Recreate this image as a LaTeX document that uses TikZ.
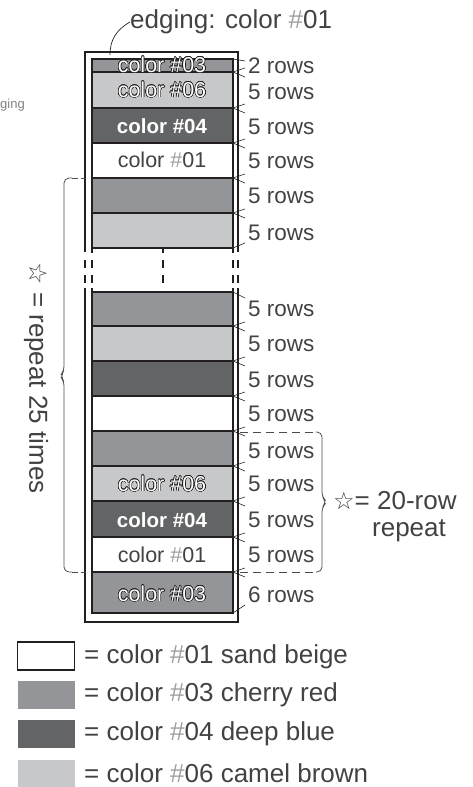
\documentclass[tikz,border=0pt]{standalone}
\usepackage{fontspec}
\setmainfont{Liberation Sans}
\newfontfamily\symfont{DejaVu Sans}
\usepackage{contour}
\contourlength{0.5pt}
\contournumber{24}
\definecolor{cA}{HTML}{939598}
\definecolor{cB}{HTML}{C7C8CA}
\definecolor{cC}{HTML}{636466}
\definecolor{ink}{HTML}{231F20}
\definecolor{txt}{HTML}{424242}
\newcommand\hsh{\textcolor{black!38}{\#}}
\newcommand\olt[1]{\contour{ink}{\textcolor{white}{#1}}}
\tikzset{
  stripe/.style={draw=ink, line width=2.6pt},
  frame/.style={draw=ink, line width=2.6pt},
  lead/.style={draw=ink, line width=0.6pt},
  brc/.style={draw=black!70, line width=0.8pt},
  rowlbl/.style={anchor=west, font=\fontsize{22.5}{22.5}\selectfont, text=txt, inner sep=0pt},
  stxt/.style={font=\fontsize{21.5}{21.5}\selectfont, inner sep=0pt},
  btxt/.style={font=\bfseries\fontsize{20.5}{20.5}\selectfont, text=white, inner sep=0pt},
  bigtxt/.style={font=\fontsize{26}{26}\selectfont, text=txt, inner sep=0pt},
  legbox/.style={minimum width=57pt, minimum height=28pt, inner sep=0pt},
}
\begin{document}
\begin{tikzpicture}[x=1pt, y=-1pt]
\useasboundingbox (0,0) rectangle (472,787);
% stripes, top section
\draw[stripe, fill=cA] (92,59) rectangle (233,72);
\draw[stripe, fill=cB] (92,72) rectangle (233,108);
\draw[stripe, fill=cC] (92,108) rectangle (233,143);
\draw[stripe, fill=white] (92,143) rectangle (233,178);
\draw[stripe, fill=cA] (92,178) rectangle (233,213);
\draw[stripe, fill=cB] (92,213) rectangle (233,248);
% stripes, bottom section
\draw[stripe, fill=cA] (92,292) rectangle (233,326);
\draw[stripe, fill=cB] (92,326) rectangle (233,361);
\draw[stripe, fill=cC] (92,361) rectangle (233,396);
\draw[stripe, fill=white] (92,396) rectangle (233,431);
\draw[stripe, fill=cA] (92,431) rectangle (233,466);
\draw[stripe, fill=cB] (92,466) rectangle (233,501);
\draw[stripe, fill=cC] (92,501) rectangle (233,537);
\draw[stripe, fill=white] (92,537) rectangle (233,572);
\draw[stripe, fill=cA] (92,572) rectangle (233,613);
% outer frame
\draw[frame] (85,252) -- (85,52) -- (238,52) -- (238,252);
\draw[frame] (85,288) -- (85,622) -- (238,622) -- (238,288);
% gap dashes
\foreach \x in {85,92,163,233,238} {
  \draw[frame, line width=2.4pt] (\x,260) -- (\x,268);
  \draw[frame, line width=2.4pt] (\x,275) -- (\x,283);
}
\draw[frame, line width=2.4pt] (163,248) -- (163,253);
\draw[frame, line width=2.4pt] (92,248) -- (92,253);
\draw[frame, line width=2.4pt] (233,248) -- (233,253);
\draw[frame, line width=2.4pt] (92,288) -- (92,292);
\draw[frame, line width=2.4pt] (233,288) -- (233,292);
% stripe texts
\node[stxt] (t03a) at (162,65) {\olt{color \#03}};
\node[stxt] (t06a) at (162,90) {\olt{color \#06}};
\node[btxt] (t04a) at (162,126) {color \#04};
\node[stxt, text=txt] (t01a) at (162,160) {color \hsh01};
\node[stxt] (t06b) at (162,484) {\olt{color \#06}};
\node[btxt] (t04b) at (162,520) {color \#04};
\node[stxt, text=txt] (t01b) at (162,555) {color \hsh01};
\node[stxt] (t03b) at (162,594) {\olt{color \#03}};
% row labels
\node[rowlbl] (r1) at (248,66) {2 rows};
\node[rowlbl] (r2) at (248,92) {5 rows};
\node[rowlbl] (r3) at (248,127) {5 rows};
\node[rowlbl] (r4) at (248,161) {5 rows};
\node[rowlbl] (r5) at (248,196) {5 rows};
\node[rowlbl] (r6) at (248,233) {5 rows};
\node[rowlbl] (r7) at (248,309) {5 rows};
\node[rowlbl] (r8) at (248,344) {5 rows};
\node[rowlbl] (r9) at (248,380) {5 rows};
\node[rowlbl] (r10) at (248,414) {5 rows};
\node[rowlbl] (r11) at (248,451) {5 rows};
\node[rowlbl] (r12) at (248,484) {5 rows};
\node[rowlbl] (r13) at (248,520) {5 rows};
\node[rowlbl] (r14) at (248,555) {5 rows};
\node[rowlbl] (r15) at (248,595) {6 rows};
% leaders
\foreach \b in {72,108,143,178,213,326,361,396,431,466,501,537,572} {
  \draw[lead] (245,\b-4) -- (233,\b) -- (245,\b+5);
}
\draw[lead] (233,59) -- (245,61);
\draw[lead] (233,248) -- (245,243);
\draw[lead] (233,292) -- (245,298);
\draw[lead] (233,613) -- (245,605);
% edging label
\node[bigtxt, anchor=west] (edg) at (130,22) {edging: color \hsh01};
\coordinate (etip) at (110,55);
\draw[lead, line width=0.7pt] (etip) .. controls (110,40) and (116,30) .. (edg.west);
% cut text at left
\node[anchor=east, font=\fontsize{13}{13}\selectfont, text=black!50, inner sep=0pt] (cut) at (25,105) {ging};
% left brace
\draw[brc, rounded corners=5pt] (72,178) -- (64,178) -- (64,371) -- (60,376) -- (64,381) -- (64,572) -- (72,572);
\draw[brc, dash pattern=on 6pt off 3pt] (72,178) -- (86,178);
\draw[brc, dash pattern=on 6pt off 3pt] (72,572) -- (86,572);
\node[bigtxt, rotate=-90] (rep25) at (36,378) {{\symfont\fontsize{25}{25}\selectfont ☆} = repeat 25 times};
% right brace
\draw[brc, dash pattern=on 8pt off 5pt] (240,432) -- (316,432);
\draw[brc, dash pattern=on 8pt off 5pt] (240,572) -- (316,572);
\draw[brc, rounded corners=5pt] (316,432) -- (322,432) -- (322,497) -- (327,502) -- (322,507) -- (322,572) -- (316,572);
\node[bigtxt, anchor=west] (rep20) at (333,501) {{\symfont\fontsize{24}{24}\selectfont ☆}= 20-row};
\node[bigtxt] (rep20b) at (409,531) {repeat};
% legend
\node[legbox, draw=ink, line width=1.3pt, fill=white] (L1) at (46,656) {};
\node[legbox, fill=cA] (L2) at (46,695) {};
\node[legbox, fill=cC] (L3) at (46,734) {};
\node[legbox, fill=cB] (L4) at (46,773.5) {};
\node[bigtxt, anchor=west] (T1) at (84,657) {= color \hsh01 sand beige};
\node[bigtxt, anchor=west] (T2) at (84,695) {= color \hsh03 cherry red};
\node[bigtxt, anchor=west] (T3) at (84,734) {= color \hsh04 deep blue};
\node[bigtxt, anchor=west] (T4) at (84,773) {= color \hsh06 camel brown};
\end{tikzpicture}
\end{document}
